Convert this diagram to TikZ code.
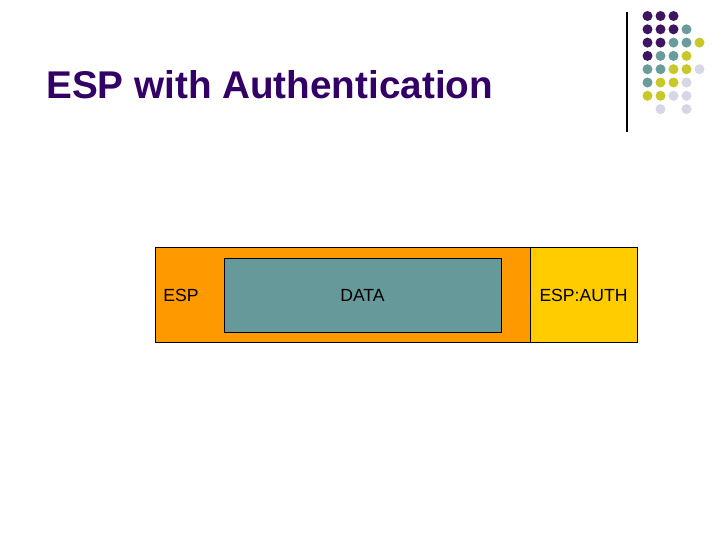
\documentclass[tikz,border=0pt]{standalone}
\usepackage{fontspec}
\setmainfont{Liberation Sans}
\definecolor{ttl}{HTML}{330066}
\definecolor{dP}{HTML}{3D1560}
\definecolor{dT}{HTML}{6A9C9C}
\definecolor{dY}{HTML}{C8C828}
\definecolor{dL}{HTML}{D6D6E6}
\definecolor{orng}{HTML}{FF9900}
\definecolor{yel}{HTML}{FFCC00}
\definecolor{teal}{HTML}{669999}
\begin{document}
\begin{tikzpicture}[x=0.75pt,y=-0.75pt,
  box/.style={draw=black,line width=0.75pt,inner sep=0pt},
  lbl/.style={font=\fontsize{13.2}{15}\selectfont,anchor=base,inner sep=0pt},
  dot/.style={circle,inner sep=0pt,minimum size=7.5pt}]
\useasboundingbox (0,0) rectangle (720,540);
\fill[white] (0,0) rectangle (720,540);
% title
\node[anchor=base west,inner sep=0pt,text=ttl,font=\fontsize{29}{34}\selectfont\bfseries] (title) at (46,98) {ESP with Authentication};
% vertical line
\coordinate (vt) at (627,12);
\coordinate (vb) at (627,132);
\draw[line width=0.9pt] (vt) -- (vb);
% dots
\foreach \row/\cols in {0/{P,P,P,N,N},1/{P,P,P,T,N},2/{P,P,T,T,Y},3/{P,T,T,Y,N},4/{T,T,Y,Y,L},5/{T,Y,Y,L,N},6/{Y,Y,L,L,N},7/{N,L,N,L,N}}{
  \foreach \c [count=\i from 0] in \cols {
    \if\c N\else
      \node[dot,fill=d\c] (d\row\i) at ({647.5+13*\i},{16+13.3*\row}) {};
    \fi
  }
}
% packet
\draw[box,fill=orng] (155.5,247.5) rectangle (530.5,342.5);
\draw[box,fill=yel] (530.5,247.5) rectangle (637.5,342.5);
\draw[box,fill=teal] (224,258.5) rectangle (501.5,332);
\node[lbl] (esp) at (181,301.5) {ESP};
\node[lbl] (data) at (362.5,301.5) {DATA};
\node[lbl] (auth) at (583.5,301.5) {ESP:AUTH};
\end{tikzpicture}
\end{document}
